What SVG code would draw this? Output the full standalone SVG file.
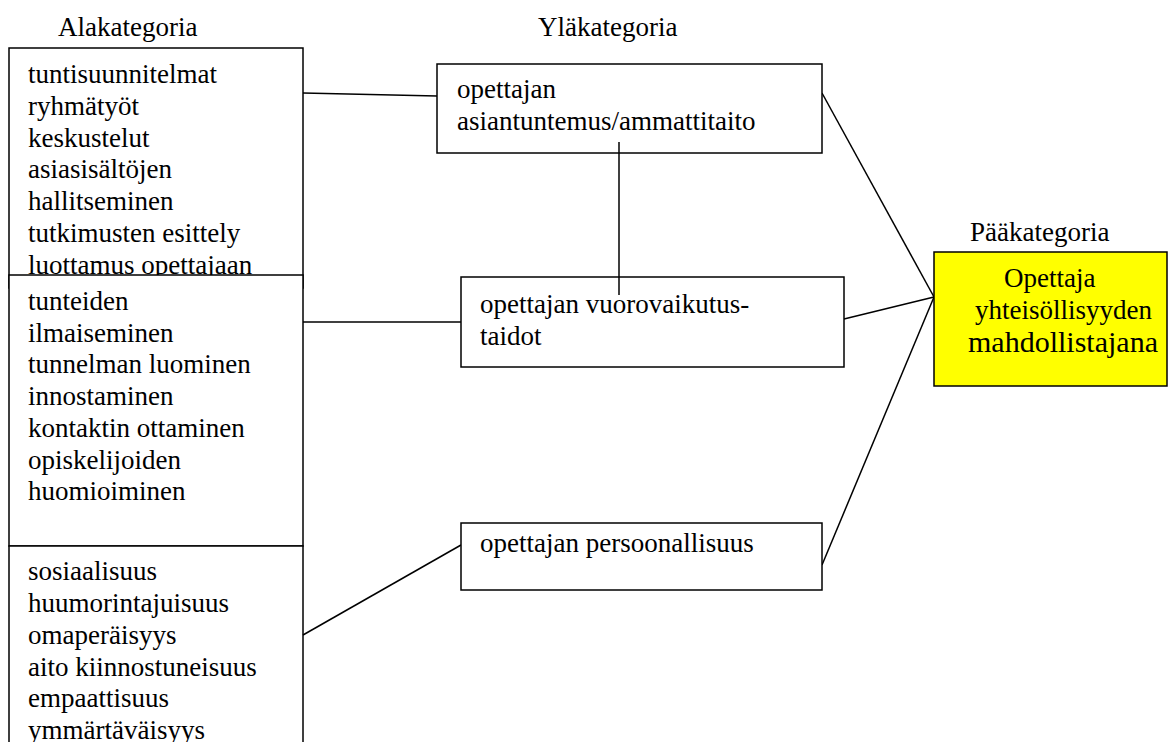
<svg xmlns="http://www.w3.org/2000/svg" width="1168" height="742" viewBox="0 0 1168 742">
  <style>
    .box { fill: #fff; stroke: #000; stroke-width: 1.5; }
    .main { fill: #ffff00; stroke: #000; stroke-width: 1.5; }
    .link { stroke: #000; stroke-width: 1.5; fill: none; }
  </style>
  <rect width="1168" height="742" fill="#fff"/>

  <g font-family="'Liberation Serif', 'Times New Roman', 'DejaVu Serif', serif" font-size="27" fill="#000">
    <!-- column headings -->
    <g id="headings">
      <text x="58" y="36">Alakategoria</text>
      <text x="538" y="36">Yläkategoria</text>
      <text x="970" y="241">Pääkategoria</text>
    </g>

    <!-- subcategory lists -->
    <g id="sub-expertise">
      <rect class="box" x="9" y="48" width="294" height="240"/>
      <text x="28" y="83">tuntisuunnitelmat</text>
      <text x="28" y="115">ryhmätyöt</text>
      <text x="28" y="147">keskustelut</text>
      <text x="28" y="178">asiasisältöjen</text>
      <text x="28" y="210">hallitseminen</text>
      <text x="28" y="242">tutkimusten esittely</text>
      <text x="28" y="274">luottamus opettajaan</text>
    </g>
    <g id="sub-interaction">
      <rect class="box" x="9" y="275" width="294" height="271"/>
      <text x="28" y="310">tunteiden</text>
      <text x="28" y="342">ilmaiseminen</text>
      <text x="28" y="373">tunnelman luominen</text>
      <text x="28" y="405">innostaminen</text>
      <text x="28" y="437">kontaktin ottaminen</text>
      <text x="28" y="469">opiskelijoiden</text>
      <text x="28" y="500">huomioiminen</text>
    </g>
    <g id="sub-personality">
      <rect class="box" x="9" y="546" width="294" height="220"/>
      <text x="28" y="580">sosiaalisuus</text>
      <text x="28" y="612">huumorintajuisuus</text>
      <text x="28" y="644">omaperäisyys</text>
      <text x="28" y="676">aito kiinnostuneisuus</text>
      <text x="28" y="707">empaattisuus</text>
      <text x="28" y="739">ymmärtäväisyys</text>
    </g>

    <!-- connectors -->
    <g id="connectors">
      <line class="link" x1="303" y1="93" x2="437" y2="96"/>
      <line class="link" x1="303" y1="322" x2="461" y2="322"/>
      <line class="link" x1="303" y1="635" x2="461" y2="545"/>
      <line class="link" x1="822" y1="93" x2="934" y2="297"/>
      <line class="link" x1="844" y1="319" x2="934" y2="297"/>
      <line class="link" x1="822" y1="565" x2="934" y2="297"/>
    </g>

    <!-- upper categories -->
    <g id="cat-expertise">
      <rect class="box" x="437" y="64" width="385" height="89"/>
      <text x="457" y="98">opettajan</text>
      <text x="457" y="130">asiantuntemus/ammattitaito</text>
    </g>
    <g id="cat-interaction">
      <rect class="box" x="461" y="277" width="383" height="90"/>
      <text x="480" y="313">opettajan vuorovaikutus-</text>
      <text x="480" y="345">taidot</text>
    </g>
    <g id="cat-personality">
      <rect class="box" x="461" y="523" width="361" height="67"/>
      <text x="480" y="552">opettajan persoonallisuus</text>
    </g>

    <!-- link between expertise and interaction, drawn over the lower box -->
    <line class="link" x1="619" y1="142" x2="619" y2="295"/>

    <!-- main category -->
    <g id="main-category">
      <rect class="main" x="934" y="252" width="233" height="134"/>
      <text x="1004" y="287">Opettaja</text>
      <text x="975" y="319">yhteisöllisyyden</text>
      <text x="968" y="352" font-size="30">mahdollistajana</text>
    </g>
  </g>
</svg>
